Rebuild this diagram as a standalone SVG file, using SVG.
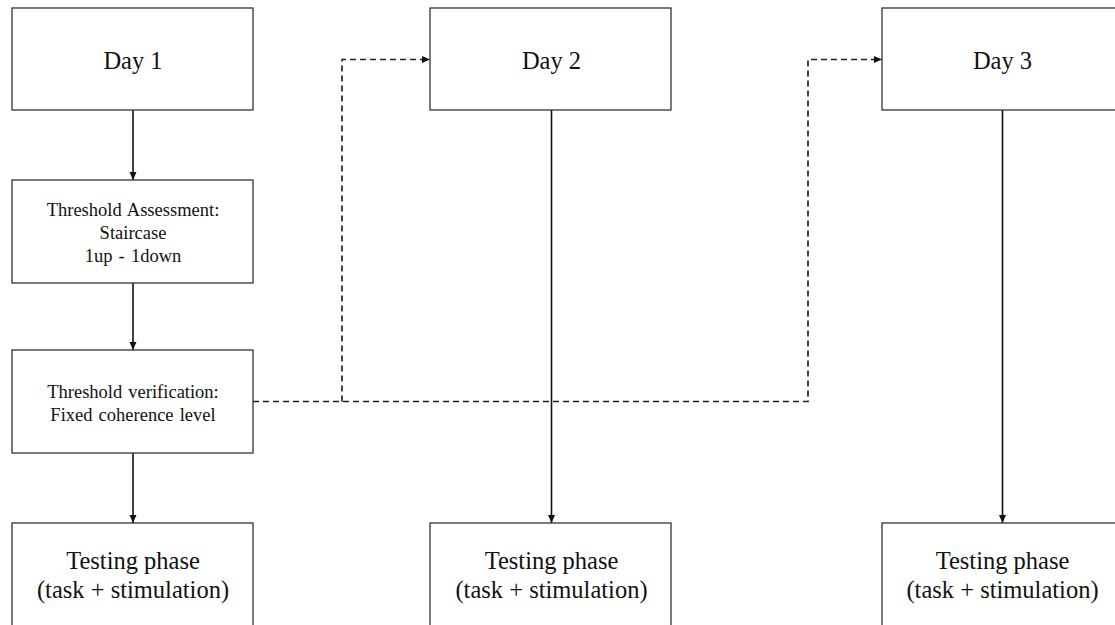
<svg xmlns="http://www.w3.org/2000/svg" width="1115" height="625" viewBox="0 0 1115 625">
<style>
.box{fill:#fff;stroke:#333;stroke-width:1.3}
.t{font-family:"Liberation Serif","Times New Roman",serif;fill:#111;text-anchor:middle}
.big{font-size:24.5px}
.sm{font-size:18.5px;word-spacing:1.5px}
.ln{fill:none;stroke:#111;stroke-width:1.6}
.dash{fill:none;stroke:#222;stroke-width:1.7;stroke-dasharray:6,4}
</style>
<defs>
<marker id="ah" markerWidth="9" markerHeight="9" refX="8" refY="4.5" orient="auto" markerUnits="userSpaceOnUse">
<path d="M0,1 L8,4.5 L0,8 Z" fill="#111"/>
</marker>
</defs>
<rect width="1115" height="625" fill="#fff"/>
<g id="connectors">
<line class="ln" x1="133" y1="110" x2="133" y2="180" marker-end="url(#ah)"/>
<line class="ln" x1="133" y1="283" x2="133" y2="350" marker-end="url(#ah)"/>
<line class="ln" x1="133" y1="453" x2="133" y2="523" marker-end="url(#ah)"/>
<line class="ln" x1="551.5" y1="110" x2="551.5" y2="523" marker-end="url(#ah)"/>
<line class="ln" x1="1002.5" y1="110" x2="1002.5" y2="523" marker-end="url(#ah)"/>
<path class="dash" d="M253,401.5 H808 V59.5 H882" marker-end="url(#ah)"/>
<path class="dash" d="M342,401.5 V59.5 H430" marker-end="url(#ah)"/>
</g>
<g id="day1">
<rect class="box" x="12" y="8" width="241" height="102"/>
<text class="t big" x="133" y="69">Day 1</text>
</g>
<g id="threshold-assessment">
<rect class="box" x="12" y="180" width="241" height="103"/>
<text class="t sm" x="133" y="216">Threshold Assessment:</text>
<text class="t sm" x="133" y="239">Staircase</text>
<text class="t sm" x="133" y="262" word-spacing="4">1up - 1down</text>
</g>
<g id="threshold-verification">
<rect class="box" x="12" y="350" width="241" height="103"/>
<text class="t sm" x="133" y="398">Threshold verification:</text>
<text class="t sm" x="133" y="421">Fixed coherence level</text>
</g>
<g id="testing1">
<rect class="box" x="12" y="523" width="241" height="110"/>
<text class="t big" x="133" y="569">Testing phase</text>
<text class="t big" x="133" y="598">(task + stimulation)</text>
</g>
<g id="day2">
<rect class="box" x="430" y="8" width="241" height="102"/>
<text class="t big" x="551.5" y="69">Day 2</text>
</g>
<g id="testing2">
<rect class="box" x="430" y="523" width="241" height="110"/>
<text class="t big" x="551.5" y="569">Testing phase</text>
<text class="t big" x="551.5" y="598">(task + stimulation)</text>
</g>
<g id="day3">
<rect class="box" x="882" y="8" width="241" height="102"/>
<text class="t big" x="1002.5" y="69">Day 3</text>
</g>
<g id="testing3">
<rect class="box" x="882" y="523" width="241" height="110"/>
<text class="t big" x="1002.5" y="569">Testing phase</text>
<text class="t big" x="1002.5" y="598">(task + stimulation)</text>
</g>
</svg>
